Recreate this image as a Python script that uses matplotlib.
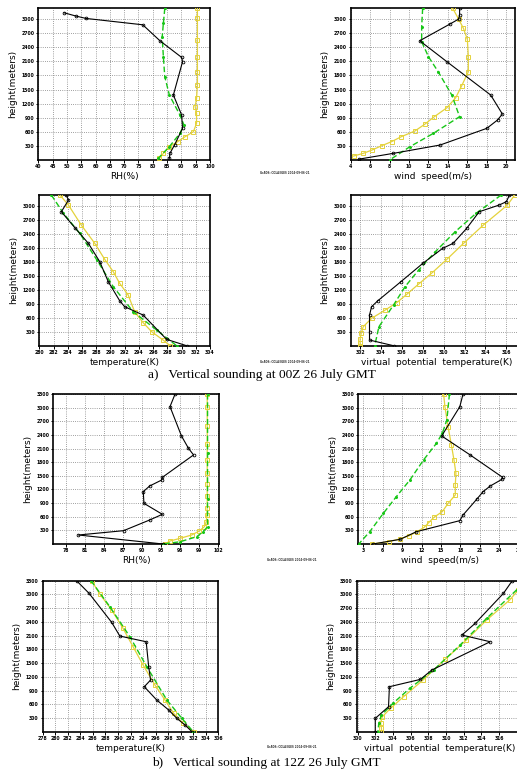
import numpy as np
import matplotlib
matplotlib.use('Agg')
import matplotlib.pyplot as plt

# colours of the three profiles
obs_col = 'black'
grn_col = '#17c617'
yel_col = '#e4d23c'

# ---------------- a) 00Z -----------------
# RH(%)
rh00_obs_h = [3135, 3064, 3014, 2879, 2539, 2184, 2092, 1383, 957, 674, 319, 142, 35]
rh00_obs = [49.0, 53.2, 56.7, 76.5, 82.5, 90.1, 90.4, 87.2, 90.1, 90.4, 87.6, 86.0, 85.8]
rh00_grn_h = [3227, 2908, 2624, 2199, 1773, 1383, 957, 745, 567, 284, 35]
rh00_grn = [84.2, 83.7, 83.3, 83.7, 84.2, 85.8, 89.5, 90.9, 89.5, 85.8, 81.9]
rh00_yel_h = [3227, 3014, 2553, 2199, 1879, 1596, 1312, 1135, 993, 780, 603, 496, 390, 284, 142, 35]
rh00_yel = [95.6, 95.6, 95.6, 95.6, 95.6, 95.6, 95.3, 94.8, 95.3, 95.3, 94.2, 91.3, 88.7, 85.8, 83.7, 82.3]

# wind speed(m/s)
ws00_obs_h = [3227, 3085, 3000, 2894, 2539, 2092, 1383, 979, 851, 674, 319, 142, 20]
ws00_obs = [15.2, 15.2, 15.1, 14.2, 11.1, 13.9, 18.4, 19.6, 19.1, 18.0, 13.2, 8.4, 4.9]
ws00_grn_h = [3227, 2837, 2518, 2199, 1879, 1383, 922, 567, 284, 0]
ws00_grn = [11.4, 11.3, 11.3, 12.0, 13.0, 14.4, 15.2, 12.5, 10.1, 8.0]
ws00_yel_h = [3227, 3000, 2801, 2567, 2199, 1879, 1574, 1326, 1113, 922, 759, 617, 496, 390, 305, 213, 142, 85]
ws00_yel = [14.5, 15.1, 15.6, 16.0, 16.1, 16.1, 15.4, 14.8, 13.9, 12.6, 11.6, 10.6, 9.2, 8.2, 7.2, 6.2, 5.3, 4.3]

# temperature(K)
t00_obs_h = [3229, 3121, 2871, 2529, 2193, 1800, 1371, 964, 836, 657, 136, 0]
t00_obs = [283.8, 284.1, 283.1, 285.0, 286.9, 288.5, 289.7, 291.3, 292.0, 294.6, 297.9, 300.7]
t00_grn_h = [3229, 2836, 2407, 1836, 1264, 729, 336, 0]
t00_grn = [281.7, 283.4, 285.7, 288.1, 290.4, 293.2, 296.5, 299.3]
t00_yel_h = [3229, 3014, 2586, 2193, 1850, 1586, 1336, 1086, 729, 493, 300, 121, 0]
t00_yel = [282.9, 284.1, 285.9, 287.8, 289.2, 290.4, 291.3, 292.5, 293.4, 294.6, 295.8, 297.4, 298.4]

# virtual potential temperature(K)
vp00_obs_h = [3229, 3086, 3014, 2871, 2514, 2193, 2086, 1764, 1371, 964, 836, 657, 300, 121, 0]
vp00_obs = [316.3, 316.0, 315.3, 313.4, 312.2, 310.9, 309.9, 308.0, 305.9, 303.7, 303.1, 302.9, 302.9, 302.9, 305.2]
vp00_grn_h = [3229, 2836, 2443, 2014, 1621, 1264, 871, 407, 0]
vp00_grn = [315.5, 313.1, 311.1, 309.2, 307.6, 306.3, 305.2, 303.8, 303.4]
vp00_yel_h = [3229, 3014, 2586, 2193, 1850, 1564, 1321, 1107, 921, 764, 586, 407, 264, 150, 60, 0]
vp00_yel = [316.8, 316.1, 313.8, 311.9, 310.3, 308.9, 307.6, 306.5, 305.5, 304.4, 303.1, 302.3, 302.1, 302.0, 302.0, 302.0]

# ---------------- b) 12Z -----------------
rh12_obs_h = [3300, 3022, 2377, 2106, 1959, 1467, 1408, 1276, 1152, 895, 653, 528, 293, 198, 0]
rh12_obs = [95.2, 94.4, 96.2, 97.3, 98.1, 93.2, 93.1, 91.2, 90.2, 90.3, 93.2, 91.2, 87.1, 80.0, 93.3]
rh12_grn_h = [3300, 2000, 1000, 380, 271, 161, 50, 0]
rh12_grn = [100.3, 100.3, 100.3, 100.3, 99.6, 98.6, 96.0, 93.3]
rh12_yel_h = [3300, 3022, 2600, 2200, 1850, 1570, 1310, 1050, 790, 640, 491, 381, 286, 198, 125, 66, 0]
rh12_yel = [100.25, 100.25, 100.25, 100.25, 100.25, 100.25, 100.25, 100.25, 100.25, 100.2, 100.1, 99.8, 99.0, 97.8, 96.0, 94.4, 93.6]

ws12_obs_h = [3300, 3022, 2377, 1959, 1467, 1423, 1276, 1152, 983, 638, 514, 271, 103, 0]
ws12_obs = [18.4, 17.9, 15.1, 19.5, 24.5, 24.4, 22.6, 21.5, 20.5, 18.4, 17.9, 11.2, 8.7, 4.5]
ws12_grn_h = [3300, 2729, 2436, 2216, 1849, 1409, 1042, 675, 271, 0]
ws12_grn = [16.3, 15.9, 15.2, 14.3, 12.3, 10.2, 8.1, 6.1, 4.0, 2.3]
ws12_yel_h = [3300, 3022, 2568, 2179, 1849, 1555, 1299, 1078, 895, 712, 587, 470, 367, 271, 183, 110, 51, 0]
ws12_yel = [15.4, 15.6, 16.1, 16.6, 17.0, 17.3, 17.2, 17.2, 16.1, 15.2, 13.9, 13.1, 12.4, 11.3, 10.1, 8.6, 6.9, 4.3]

t12_obs_h = [3300, 3023, 2389, 2090, 1966, 1420, 1129, 983, 690, 473, 291, 146, 0]
t12_obs = [283.4, 285.4, 289.0, 290.3, 294.5, 294.9, 295.2, 294.2, 296.2, 298.1, 299.4, 300.7, 301.8]
t12_grn_h = [3300, 2732, 2076, 1420, 692, 291, 0]
t12_grn = [285.7, 288.7, 291.9, 294.6, 297.8, 300.2, 302.0]
t12_yel_h = [3300, 3010, 2660, 2260, 1860, 1460, 1020, 692, 400, 180, 0]
t12_yel = [285.8, 287.1, 289.0, 290.8, 292.4, 294.0, 295.9, 297.5, 298.9, 300.4, 302.1]

vp12_obs_h = [3300, 3023, 2367, 2112, 1966, 1348, 1143, 983, 546, 291, 0]
vp12_obs = [317.5, 316.5, 313.3, 311.8, 315.0, 308.4, 307.1, 303.6, 303.5, 302.0, 302.0]
vp12_grn_h = [3100, 2477, 1894, 1348, 947, 619, 364, 182, 0]
vp12_grn = [318.0, 314.6, 311.6, 308.6, 305.9, 304.0, 302.7, 302.4, 302.3]
vp12_yel_h = [3100, 2877, 2440, 2002, 1580, 1129, 765, 524, 328, 182, 80, 0]
vp12_yel = [318.2, 317.2, 314.6, 312.3, 309.9, 307.4, 305.2, 303.8, 302.8, 302.6, 302.7, 302.7]

W, H = 517, 771


# place an axes by pixel edges of the original page
def px_axes(fig, left, top, right, bottom):
    return fig.add_axes([left / W, 1 - bottom / H, (right - left) / W, (bottom - top) / H])


def sounding(ax, obs, grn, yel, xlim, xticks, ytop, yticks, xlabel):
    ax.plot(yel[1], yel[0], color=yel_col, lw=0.9, marker='s', ms=2.6,
            mfc='none', mec=yel_col, mew=0.7, zorder=3)
    ax.plot(grn[1], grn[0], color=grn_col, lw=1.0, ls=(0, (4, 2)), marker='o',
            ms=1.2, zorder=4)
    ax.plot(obs[1], obs[0], color=obs_col, lw=0.8, marker='o', ms=2.0,
            mfc='none', mec=obs_col, mew=0.6, zorder=5)
    ax.set_xlim(xlim)
    ax.set_ylim(0, ytop)
    ax.set_xticks(xticks)
    ax.set_yticks(yticks)
    ax.set_xticklabels([str(v) for v in xticks], fontsize=3.3, fontweight='bold')
    ax.set_yticklabels([str(v) for v in yticks], fontsize=3.3, fontweight='bold')
    ax.tick_params(direction='out', length=1.8, width=0.7, pad=1.2)
    ax.grid(True, color='#808080', lw=0.6, ls=(0, (1, 1.6)))
    for s in ax.spines.values():
        s.set_linewidth(1.2)
    ax.set_xlabel(xlabel, fontsize=6.5, labelpad=2)
    ax.set_ylabel('height(meters)', fontsize=6.5, labelpad=3)


fig = plt.figure(figsize=(W / 100, H / 100), dpi=100)

ya = list(range(300, 3001, 300))
yb = list(range(300, 3301, 300))

ax = px_axes(fig, 38.3, 8.3, 210, 160)
sounding(ax, (rh00_obs_h, rh00_obs), (rh00_grn_h, rh00_grn), (rh00_yel_h, rh00_yel),
         (40, 100), list(range(40, 101, 5)), 3230, ya, 'RH(%)')

ax = px_axes(fig, 350.7, 8.3, 515, 160)
sounding(ax, (ws00_obs_h, ws00_obs), (ws00_grn_h, ws00_grn), (ws00_yel_h, ws00_yel),
         (4, 20.9), list(range(4, 21, 2)), 3230, ya, 'wind  speed(m/s)')

ax = px_axes(fig, 39.3, 195, 210, 345.7)
sounding(ax, (t00_obs_h, t00_obs), (t00_grn_h, t00_grn), (t00_yel_h, t00_yel),
         (280, 304), list(range(280, 305, 2)), 3230, ya, 'temperature(K)')

ax = px_axes(fig, 350.7, 195, 522, 345.7)
sounding(ax, (vp00_obs_h, vp00_obs), (vp00_grn_h, vp00_grn), (vp00_yel_h, vp00_yel),
         (301.1, 317.5), list(range(302, 317, 2)), 3230, ya,
         'virtual  potential  temperature(K)')

ax = px_axes(fig, 53.3, 394, 219, 544)
sounding(ax, (rh12_obs_h, rh12_obs), (rh12_grn_h, rh12_grn), (rh12_yel_h, rh12_yel),
         (76.06, 102.1), list(range(78, 103, 3)), 3300, yb, 'RH(%)')

ax = px_axes(fig, 358.3, 394, 522, 544)
sounding(ax, (ws12_obs_h, ws12_obs), (ws12_grn_h, ws12_grn), (ws12_yel_h, ws12_yel),
         (2.23, 27.5), list(range(3, 28, 3)), 3300, yb, 'wind  speed(m/s)')

ax = px_axes(fig, 42.7, 580.7, 218.3, 731.7)
sounding(ax, (t12_obs_h, t12_obs), (t12_grn_h, t12_grn), (t12_yel_h, t12_yel),
         (278, 306), list(range(278, 307, 2)), 3300, yb, 'temperature(K)')

ax = px_axes(fig, 356.7, 580.7, 522, 731.7)
sounding(ax, (vp12_obs_h, vp12_obs), (vp12_grn_h, vp12_grn), (vp12_yel_h, vp12_yel),
         (299.9, 318.6), list(range(300, 317, 2)), 3300, yb,
         'virtual  potential  temperature(K)')

# small GrADS stamps
for x, y in [(260, 173), (260, 362), (267, 560), (267, 747)]:
    fig.text(x / W, 1 - y / H, 'GrADS: COLA/IGES 2004-09-06-21', fontsize=1.9,
             fontweight='bold', color='#333333', va='center')

# captions
fig.text(148 / W, 1 - 375 / H, 'a)   Vertical sounding at 00Z 26 July GMT',
         fontsize=9.6, family='Liberation Serif', va='center')
fig.text(152 / W, 1 - 763 / H, 'b)   Vertical sounding at 12Z 26 July GMT',
         fontsize=9.6, family='Liberation Serif', va='center')

fig.savefig('out.png', dpi=100)
